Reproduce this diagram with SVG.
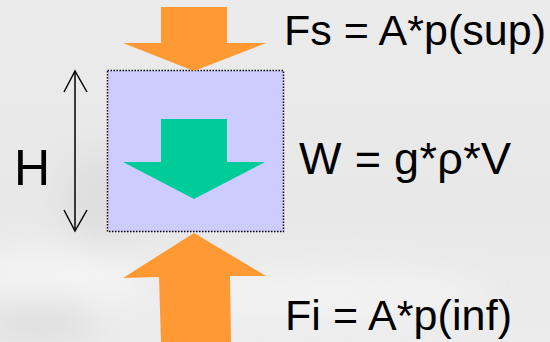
<svg xmlns="http://www.w3.org/2000/svg" width="550" height="342" viewBox="0 0 550 342">
<defs>
<style>
.lbl{font-family:"Liberation Sans",Arial,sans-serif;font-size:43px;fill:#000}
.force{fill:#FF9933}
</style>
<filter id="blur" x="-50%" y="-50%" width="200%" height="200%"><feGaussianBlur stdDeviation="18"/></filter>
<linearGradient id="bg" x1="0" y1="0" x2="0" y2="1">
<stop offset="0" stop-color="#ebebeb"/>
<stop offset="0.6" stop-color="#e8e8e8"/>
<stop offset="1" stop-color="#ececec"/>
</linearGradient>
</defs>
<rect width="550" height="342" fill="url(#bg)"/>
<g filter="url(#blur)" opacity="0.8">
<ellipse cx="60" cy="280" rx="90" ry="30" fill="#f8f8f8"/>
<ellipse cx="330" cy="295" rx="160" ry="22" fill="#f6f6f6"/>
<ellipse cx="100" cy="200" rx="40" ry="50" fill="#dcdcdc"/>
<ellipse cx="40" cy="320" rx="60" ry="20" fill="#d8d8d8"/>
</g>
<g id="box">
<rect x="107.5" y="70.5" width="176" height="161" fill="#CCCCFF" stroke="#000" stroke-width="1.5" stroke-dasharray="1.5 1.5"/>
</g>
<g id="force-top">
<polygon class="force" points="161,7 227,7 227,43 266,43 194,71 123,43 161,43"/>
</g>
<g id="weight">
<polygon fill="#00CC99" points="161,119 227,119 227,162 265,162 194,199 123,162 161,162"/>
</g>
<g id="force-bottom">
<polygon class="force" points="194,233 266,276 230,276 231,342 161,342 159,277 123,278"/>
</g>
<g id="connectors">
<line x1="75" y1="71" x2="75" y2="231" stroke="#000" stroke-width="1.5"/>
<polyline points="64,92 75,71 87,92" fill="none" stroke="#000" stroke-width="1.5"/>
<polyline points="64,210 75,231 87,210" fill="none" stroke="#000" stroke-width="1.5"/>
</g>
<g id="labels">
<text class="lbl" x="14" y="185" style="font-size:50px">H</text>
<text class="lbl" x="284" y="45" textLength="262" lengthAdjust="spacing">Fs = A*p(sup)</text>
<text class="lbl" x="299" y="174" style="font-size:45px" textLength="212" lengthAdjust="spacing">W = g*ρ*V</text>
<text class="lbl" x="285" y="330" textLength="227" lengthAdjust="spacing">Fi = A*p(inf)</text>
</g>
</svg>
